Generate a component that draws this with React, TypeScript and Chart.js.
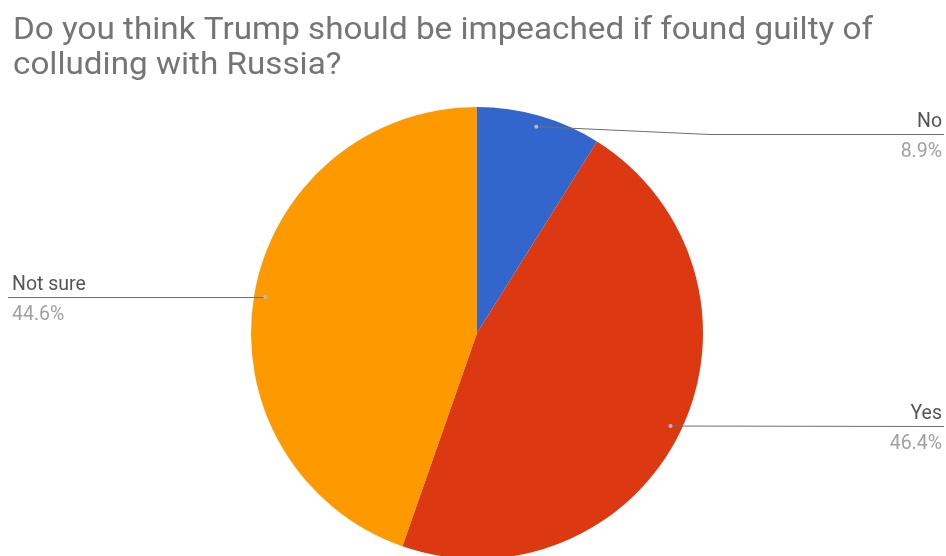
import React, { useEffect, useRef } from "react";
import { Chart, registerables } from "chart.js";

Chart.register(...registerables);

const titleLines = [
  "Do you think Trump should be impeached if found guilty of",
  "colluding with Russia?",
];
const categories = ["No", "Yes", "Not sure"];
const values = [8.9, 46.4, 44.6];
const percentLabels = ["8.9%", "46.4%", "44.6%"];
const colors = ["#3366cc", "#dc3912", "#ff9900"];

const W = 946;
const H = 560;

const overlayPlugin = {
  id: "overlay",
  afterDraw(chart: any) {
    const ctx = chart.ctx as CanvasRenderingContext2D;
    const area = chart.chartArea;
    ctx.save();
    // title
    ctx.fillStyle = "#757575";
    ctx.font = "30.5px Roboto";
    ctx.textAlign = "left";
    ctx.textBaseline = "alphabetic";
    ctx.save();
    ctx.translate(13, 0);
    ctx.scale(1.09, 1);
    ctx.fillText(titleLines[0], 0, 39);
    ctx.fillText(titleLines[1], 0, 74);
    ctx.restore();

    const meta = chart.getDatasetMeta(0);
    meta.data.forEach((arc: any, i: number) => {
      const p = arc.getProps(["x", "y", "startAngle", "endAngle", "outerRadius"], true);
      const mid = (p.startAngle + p.endAngle) / 2;
      const r = p.outerRadius * 0.95;
      const dx = p.x + Math.cos(mid) * r;
      const dy = p.y + Math.sin(mid) * r;
      const right = Math.cos(mid) >= 0;
      const lineY = Math.max(dy, area.top + 27);

      ctx.strokeStyle = "#6e6e6e";
      ctx.lineWidth = 1;
      ctx.beginPath();
      if (right) {
        ctx.moveTo(dx, dy);
        if (Math.abs(lineY - dy) > 0.5) {
          ctx.lineTo(p.x + p.outerRadius + 7, lineY + 0.5);
        }
        ctx.lineTo(W - 2, lineY + 0.5);
      } else {
        ctx.moveTo(8, lineY + 0.5);
        ctx.lineTo(dx, lineY + 0.5);
      }
      ctx.stroke();

      ctx.fillStyle = "#b8bcc8";
      ctx.beginPath();
      ctx.arc(dx, dy, 2, 0, Math.PI * 2);
      ctx.fill();

      ctx.textAlign = right ? "right" : "left";
      const tx = right ? 942 : 12;
      ctx.font = "19.5px Roboto";
      ctx.fillStyle = "#555555";
      ctx.fillText(categories[i], tx, lineY - 7);
      ctx.fillStyle = "#a0a0a0";
      ctx.fillText(percentLabels[i], tx, lineY + 23);
    });
    ctx.restore();
  },
};

export default function App() {
  const ref = useRef<HTMLCanvasElement | null>(null);
  useEffect(() => {
    if (!ref.current) return;
    const chart = new Chart(ref.current, {
      type: "pie",
      data: {
        labels: categories,
        datasets: [
          {
            data: values,
            backgroundColor: colors,
            borderWidth: 0,
          },
        ],
      },
      options: {
        responsive: false,
        animation: false,
        layout: { padding: { left: 251, right: 243, top: 107, bottom: 1 } },
        plugins: {
          legend: { display: false },
          title: { display: false },
          tooltip: { enabled: false },
        },
      },
      plugins: [overlayPlugin],
    });
    return () => chart.destroy();
  }, []);
  return (
    <div style={{ position: "fixed", left: 0, top: 0, width: W, height: H, background: "#fff" }}>
      <canvas ref={ref} width={W} height={H} style={{ width: W, height: H }} />
    </div>
  );
}
